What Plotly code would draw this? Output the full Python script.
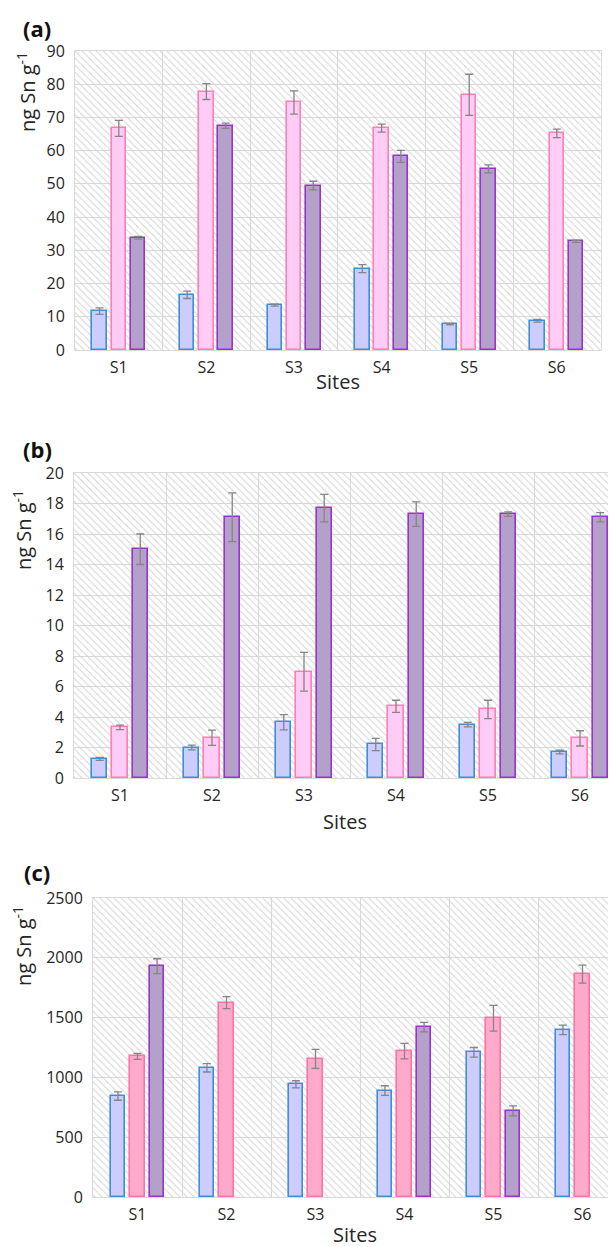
import plotly.graph_objects as go

# The page body has an 8px margin; all pixel positions below are measured on
# the screenshot and shifted by that margin.
PAGE_M = 8
W, H = 616 - PAGE_M, 1247 - PAGE_M

sites = ["S1", "S2", "S3", "S4", "S5", "S6"]

# Panel (a)
a_blue = [11.7, 16.6, 13.5, 24.5, 7.8, 8.8]
a_blue_err = [1.0, 1.1, 0.3, 1.2, 0.2, 0.4]
a_pink = [66.7, 77.8, 74.5, 66.8, 76.8, 65.2]
a_pink_err = [2.4, 2.4, 3.5, 1.2, 6.2, 1.3]
a_purple = [33.8, 67.5, 49.5, 58.3, 54.5, 32.7]
a_purple_err = [0.4, 0.8, 1.3, 1.8, 1.2, 0.3]

# Panel (b)
b_blue = [1.25, 2.0, 3.65, 2.2, 3.5, 1.7]
b_blue_err = [0.1, 0.15, 0.5, 0.4, 0.15, 0.12]
b_pink = [3.32, 2.64, 6.97, 4.7, 4.5, 2.6]
b_pink_err = [0.15, 0.5, 1.27, 0.4, 0.6, 0.5]
b_purple = [15.0, 17.1, 17.7, 17.3, 17.3, 17.1]
b_purple_err = [1.0, 1.6, 0.9, 0.8, 0.15, 0.3]

# Panel (c)
c_blue = [844, 1080, 942, 890, 1210, 1397]
c_blue_err = [35, 35, 30, 40, 40, 40]
c_pink = [1175, 1625, 1155, 1220, 1495, 1864]
c_pink_err = [25, 50, 80, 65, 108, 75]
c_purple = [1930, None, None, 1420, 720, None]
c_purple_err = [62, None, None, 40, 42, None]

a_ticks = [0, 10, 20, 30, 40, 50, 60, 70, 80, 90]
b_ticks = [0, 2, 4, 6, 8, 10, 12, 14, 16, 18, 20]
c_ticks = [0, 500, 1000, 1500, 2000, 2500]

FONT = "Open Sans"
GRID = "#d9d9d9"
TXT = "#262626"

BLUE = dict(fill="#ccccff", line="#3d8fd9")
PINK_AB = dict(fill="#ffccf5", line="#ff7fb4")
PINK_C = dict(fill="#ffaacb", line="#ff72a6")
PURPLE = dict(fill="#b3a1c9", line="#9933cc")

OFF = 0.22
BW = 0.165


def px_x(v):
    return (v - PAGE_M) / W


def px_y(v):
    return 1 - (v - PAGE_M) / H


panels = [
    dict(tag="(a)", xa="x", ya="y", left=75, right=600.5, catw=87.6, top=51, bottom=350,
         ymax=90, ticks=a_ticks,
         series=[(a_blue, a_blue_err, BLUE), (a_pink, a_pink_err, PINK_AB), (a_purple, a_purple_err, PURPLE)],
         tagy=28, ytitle_y=92, ytitle_x=26, sites_y=381, mirror_y=True),
    dict(tag="(b)", xa="x2", ya="y2", left=74, right=616, catw=92, top=473, bottom=778,
         ymax=20, ticks=b_ticks,
         series=[(b_blue, b_blue_err, BLUE), (b_pink, b_pink_err, PINK_AB), (b_purple, b_purple_err, PURPLE)],
         tagy=449, ytitle_y=530, ytitle_x=22, sites_y=821, mirror_y=False),
    dict(tag="(c)", xa="x3", ya="y3", left=93, right=616, catw=89, top=898, bottom=1197,
         ymax=2500, ticks=c_ticks,
         series=[(c_blue, c_blue_err, BLUE), (c_pink, c_pink_err, PINK_C), (c_purple, c_purple_err, PURPLE)],
         tagy=872, ytitle_y=946, ytitle_x=22, sites_y=1234, mirror_y=False),
]

fig = go.Figure()
layout = {}
annotations = []

for p in panels:
    # hatched plot background
    fig.add_trace(go.Bar(
        x=[2.5], y=[p["ymax"]], width=[6], xaxis=p["xa"], yaxis=p["ya"],
        marker=dict(color="rgba(0,0,0,0)", line=dict(width=0),
                    pattern=dict(shape="\\", fgcolor="#d4d4d4", bgcolor="rgba(0,0,0,0)",
                                 size=5, solidity=0.2, fillmode="replace")),
        hoverinfo="skip", showlegend=False))
    for k, (vals, errs, col) in enumerate(p["series"]):
        xs = [i + (k - 1) * OFF for i in range(len(sites))]
        fig.add_trace(go.Bar(
            x=xs, y=vals, width=BW, xaxis=p["xa"], yaxis=p["ya"],
            marker=dict(color=col["fill"], line=dict(color=col["line"], width=1.6)),
            error_y=dict(type="data", array=errs, color="#858585", thickness=1.3, width=4),
            showlegend=False))

    xr1 = -0.5 + (p["right"] - p["left"]) / p["catw"]
    xkey = "xaxis" + p["xa"][1:]
    ykey = "yaxis" + p["ya"][1:]
    layout[xkey] = dict(
        domain=[px_x(p["left"]), min(1.0, px_x(p["right"]))], anchor=p["ya"],
        range=[-0.5, xr1], tickvals=list(range(6)), ticktext=sites,
        showgrid=False, zeroline=False, showline=True, linecolor=GRID, linewidth=1,
        mirror=True, ticks="", ticklabelstandoff=3,
        tickfont=dict(family=FONT, size=16, color=TXT),
        minor=dict(tickvals=[0.5, 1.5, 2.5, 3.5, 4.5, 5.5], showgrid=True,
                   gridcolor=GRID, gridwidth=1, ticks=""),
        automargin=False, fixedrange=True)
    layout[ykey] = dict(
        domain=[px_y(p["bottom"]), px_y(p["top"])], anchor=p["xa"],
        range=[0, p["ymax"]], tickvals=p["ticks"],
        showgrid=True, gridcolor=GRID, gridwidth=1, zeroline=False,
        showline=True, linecolor=GRID, linewidth=1, mirror=p["mirror_y"],
        ticks="", ticklabelstandoff=6,
        tickfont=dict(family=FONT, size=16, color=TXT),
        automargin=False, fixedrange=True)

    annotations.append(dict(text="<b>" + p["tag"] + "</b>", xref="paper", yref="paper",
                            x=px_x(37), y=px_y(p["tagy"]), xanchor="center", yanchor="middle",
                            showarrow=False, font=dict(family=FONT, size=22, color="#111111")))
    annotations.append(dict(text="ng Sn g<sup>-1</sup>", xref="paper", yref="paper",
                            x=px_x(p["ytitle_x"]), y=px_y(p["ytitle_y"]), textangle=-90,
                            xanchor="center", yanchor="middle", showarrow=False,
                            font=dict(family=FONT, size=20, color=TXT)))
    mid = (p["left"] + min(p["right"], p["left"] + 6 * p["catw"])) / 2
    annotations.append(dict(text="Sites", xref="paper", yref="paper",
                            x=px_x(mid), y=px_y(p["sites_y"]), xanchor="center", yanchor="middle",
                            showarrow=False, font=dict(family=FONT, size=20, color=TXT)))

fig.update_layout(
    width=W, height=H, margin=dict(l=0, r=0, t=0, b=0),
    paper_bgcolor="white", plot_bgcolor="white",
    barmode="overlay", bargap=0, showlegend=False,
    annotations=annotations, **layout)

fig.write_html("out.html", config={"displayModeBar": False})
